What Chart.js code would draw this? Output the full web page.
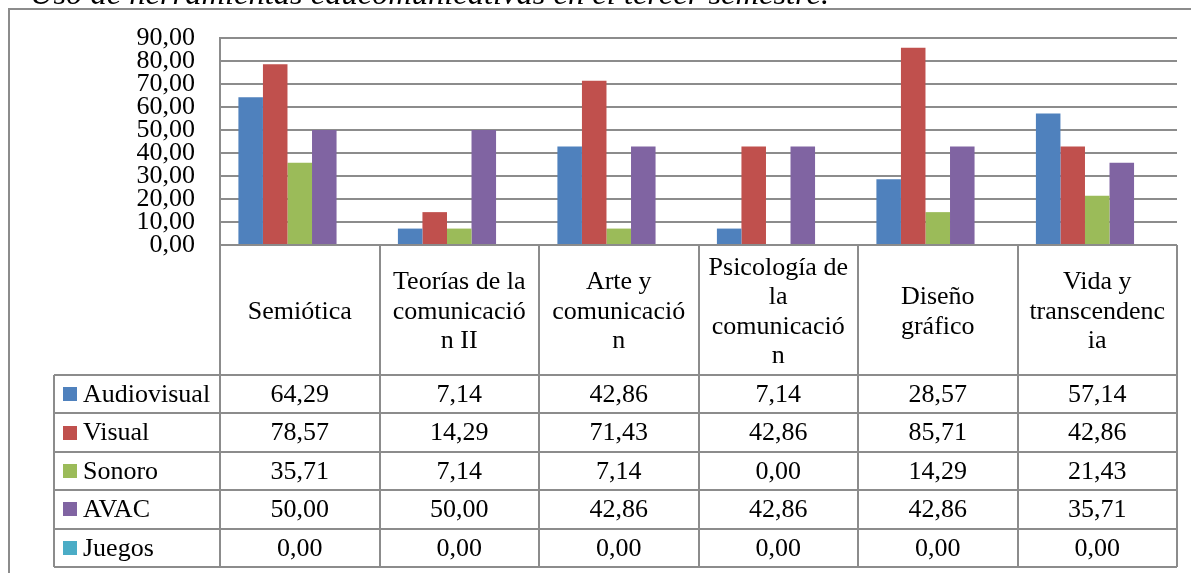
<!DOCTYPE html>
<html>
<head>
<meta charset="utf-8">
<script src="https://cdn.jsdelivr.net/npm/chart.js@4.4.1/dist/chart.umd.min.js"></script>
<style>
  html, body { margin: 0; padding: 0; background: #ffffff; }
  #wrap { width: 1191px; height: 573px; position: relative; }
</style>
</head>
<body>
<div id="wrap"><canvas id="c" width="1191" height="573"></canvas></div>
<script>
const titleText = "Uso de herramientas educomunicativas en el tercer semestre.";
const categories = [
  ["Semiótica"],
  ["Teorías de la", "comunicació", "n II"],
  ["Arte y", "comunicació", "n"],
  ["Psicología de", "la", "comunicació", "n"],
  ["Diseño", "gráfico"],
  ["Vida y", "transcendenc", "ia"]
];
const seriesNames = ["Audiovisual", "Visual", "Sonoro", "AVAC", "Juegos"];
const audiovisual = [64.29, 7.14, 42.86, 7.14, 28.57, 57.14];
const visual      = [78.57, 14.29, 71.43, 42.86, 85.71, 42.86];
const sonoro      = [35.71, 7.14, 7.14, 0.00, 14.29, 21.43];
const avac        = [50.00, 50.00, 42.86, 42.86, 42.86, 35.71];
const juegos      = [0.00, 0.00, 0.00, 0.00, 0.00, 0.00];
const yTickLabels = ["0,00", "10,00", "20,00", "30,00", "40,00", "50,00", "60,00", "70,00", "80,00", "90,00"];

const seriesValues = [audiovisual, visual, sonoro, avac, juegos];
const colors = ["#4F81BD", "#C0504D", "#9BBB59", "#8064A2", "#4BACC6"];
const FONT = "26px 'Liberation Serif', 'Times New Roman', serif";
const LINE = "#8c8c8c";

function fmt(v) { return v.toFixed(2).replace(".", ","); }

const tablePlugin = {
  id: "tablePlugin",
  beforeDraw(chart) {
    const ctx = chart.ctx;
    ctx.save();
    ctx.fillStyle = "#fff";
    ctx.fillRect(0, 0, chart.width, chart.height);
    ctx.fillStyle = "#000";
    ctx.font = "italic 26px 'Liberation Serif', 'Times New Roman', serif";
    const w = ctx.measureText(titleText).width;
    const size = 26 * 800 / w;
    ctx.font = "italic " + size.toFixed(1) + "px 'Liberation Serif', 'Times New Roman', serif";
    ctx.textBaseline = "alphabetic";
    ctx.textAlign = "left";
    ctx.fillText(titleText, 30, 4);
    ctx.strokeStyle = LINE;
    ctx.lineWidth = 2;
    ctx.strokeRect(9, 9, 1200, 600);
    ctx.restore();
  },
  afterDraw(chart) {
    const ctx = chart.ctx;
    const xs = chart.scales.x;
    const area = chart.chartArea;
    const n = categories.length;
    const cw = (xs.right - xs.left) / n;
    const bounds = [];
    for (let i = 0; i < n; i++) bounds.push(xs.getPixelForValue(i) - cw / 2);
    bounds.push(xs.getPixelForValue(n - 1) + cw / 2);
    const top = area.bottom;
    const headerH = 130;
    const rowH = 38.4;
    const tableLeft = 54;
    const rowsTop = top + headerH;
    const bottom = rowsTop + rowH * seriesNames.length;

    ctx.save();
    ctx.strokeStyle = LINE;
    ctx.lineWidth = 2;
    ctx.beginPath();
    for (let i = 0; i <= n; i++) {
      const x = Math.round(bounds[i]);
      ctx.moveTo(x, top); ctx.lineTo(x, bottom);
    }
    ctx.moveTo(tableLeft, rowsTop); ctx.lineTo(tableLeft, bottom);
    ctx.moveTo(bounds[0], top); ctx.lineTo(bounds[n], top);
    for (let r = 0; r <= seriesNames.length; r++) {
      const y = Math.round(rowsTop + r * rowH);
      ctx.moveTo(tableLeft, y); ctx.lineTo(bounds[n], y);
    }
    ctx.stroke();

    ctx.fillStyle = "#000";
    ctx.font = FONT;
    ctx.textAlign = "center";
    ctx.textBaseline = "middle";
    const lh = 29.5;
    for (let i = 0; i < n; i++) {
      const lines = categories[i];
      const cx = (bounds[i] + bounds[i + 1]) / 2;
      const cy = top + headerH / 2 + 2;
      const start = cy - (lines.length - 1) * lh / 2;
      lines.forEach((t, k) => ctx.fillText(t, cx, start + k * lh));
    }
    for (let r = 0; r < seriesNames.length; r++) {
      const cy = rowsTop + r * rowH + rowH / 2 + 1;
      ctx.fillStyle = colors[r];
      ctx.fillRect(63, Math.round(cy - 8), 14, 14);
      ctx.fillStyle = "#000";
      ctx.textAlign = "left";
      ctx.fillText(seriesNames[r], 83, cy);
      ctx.textAlign = "center";
      for (let i = 0; i < n; i++) {
        const cx = (bounds[i] + bounds[i + 1]) / 2;
        ctx.fillText(fmt(seriesValues[r][i]), cx, cy);
      }
    }
    ctx.restore();
  }
};

new Chart(document.getElementById("c"), {
  type: "bar",
  data: {
    labels: categories,
    datasets: seriesNames.map((name, i) => ({
      label: name,
      data: seriesValues[i],
      backgroundColor: colors[i],
      borderWidth: 0,
      barPercentage: 1,
      categoryPercentage: 5 / 6.5
    }))
  },
  options: {
    responsive: false,
    animation: false,
    devicePixelRatio: 1,
    layout: { padding: { top: 38, right: 14, bottom: 328, left: 0 } },
    plugins: { legend: { display: false }, tooltip: { enabled: false } },
    scales: {
      x: { display: false },
      y: {
        min: 0, max: 90,
        afterFit(scale) { scale.width = 220; },
        ticks: {
          stepSize: 10,
          autoSkip: false,
          padding: 25,
          color: "#000",
          font: { family: "'Liberation Serif', 'Times New Roman', serif", size: 26, lineHeight: 1 },
          callback: (v) => yTickLabels[Math.round(v / 10)]
        },
        grid: { color: LINE, lineWidth: 2, drawTicks: false },
        border: { display: true, color: LINE, width: 2 }
      }
    }
  },
  plugins: [tablePlugin]
});
</script>
</body>
</html>
